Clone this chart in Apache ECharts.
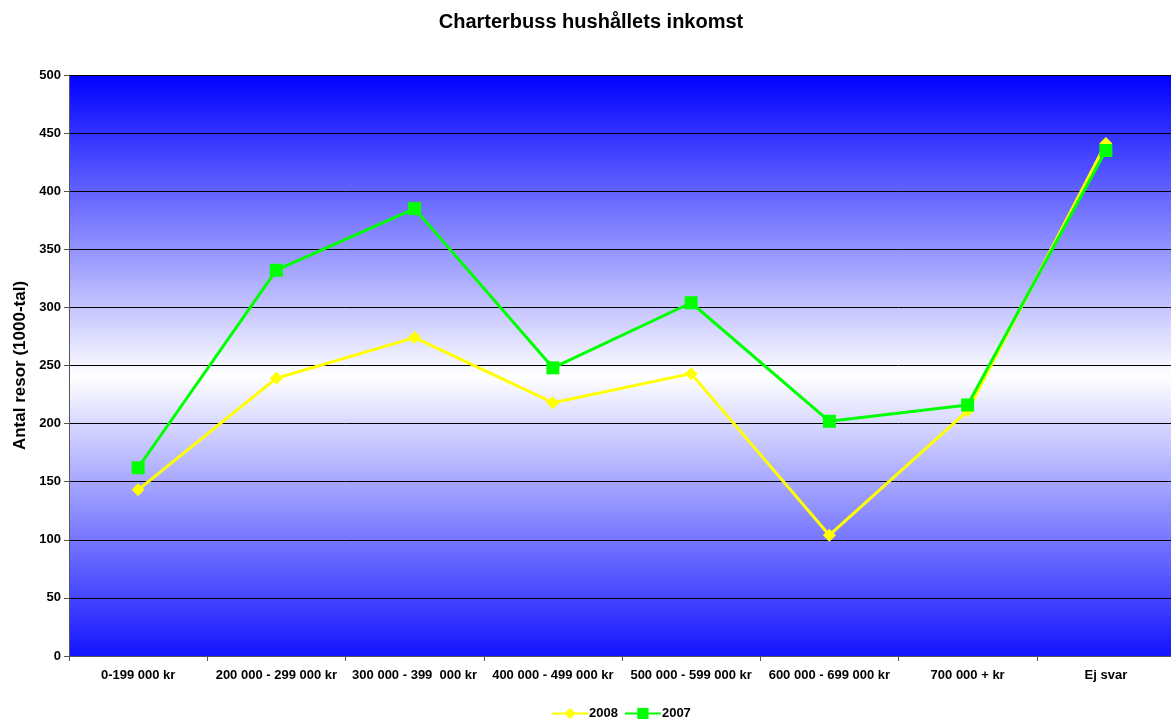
<!DOCTYPE html>
<html><head><meta charset="utf-8">
<script src="https://cdn.jsdelivr.net/npm/echarts@6/dist/echarts.min.js"></script>
<style>html,body{margin:0;padding:0;background:#fff;overflow:hidden;width:1171px;height:719px}#c{width:1175px;height:719px}</style>
</head><body><div id="c"></div>
<script>
const categories = ['0-199 000 kr','200 000 - 299 000 kr','300 000 - 399  000 kr','400 000 - 499 000 kr','500 000 - 599 000 kr','600 000 - 699 000 kr','700 000 + kr','Ej svar'];
const values2008 = [143, 239, 274, 218, 243, 104, 211, 441];
const values2007 = [162, 332, 385, 248, 304, 202, 216, 435];
const yTicks = [0, 50, 100, 150, 200, 250, 300, 350, 400, 450, 500];

const chart = echarts.init(document.getElementById('c'), null, {renderer:'canvas'});
const font = 'Liberation Sans, Arial, sans-serif';
chart.setOption({
  animation:false,
  backgroundColor:'#fff',
  title:{text:'Charterbuss hushållets inkomst', left:586, textAlign:'center', top:7,
    textStyle:{fontFamily:font, fontSize:20, fontWeight:'bold', color:'#000'}},
  legend:{bottom:-6, left:546, itemWidth:36, itemHeight:14, itemGap:6,
    textStyle:{fontFamily:font, fontSize:13, fontWeight:'bold', color:'#000', padding:[0,0,0,-4]},
    data:['2008','2007']},
  grid:{left:69, top:75, right:0, bottom:63, show:true, borderWidth:0,
    backgroundColor:new echarts.graphic.LinearGradient(0,0,0,1,[
      {offset:0,color:'#0000ff'},{offset:0.52,color:'#ffffff'},{offset:1,color:'#1414ff'}])},
  xAxis:{type:'category', data:categories, boundaryGap:true,
    axisLine:{lineStyle:{color:'#555', width:1}},
    axisTick:{show:true, length:5, lineStyle:{color:'#555'}},
    axisLabel:{interval:0, margin:13, fontFamily:font, fontSize:13, fontWeight:'bold', color:'#000'}},
  yAxis:{type:'value', min:yTicks[0], max:yTicks[yTicks.length-1], interval:50,
    name:'Antal resor (1000-tal)', nameLocation:'middle', nameGap:38, nameRotate:90,
    nameTextStyle:{fontFamily:font, fontSize:17, fontWeight:'bold', color:'#000'},
    axisLine:{show:true, lineStyle:{color:'#555'}},
    axisTick:{show:true, length:5, lineStyle:{color:'#555'}},
    splitLine:{lineStyle:{color:'#000', width:1}},
    axisLabel:{margin:8, fontFamily:font, fontSize:13, fontWeight:'bold', color:'#000'}},
  series:[
    {name:'2008', type:'line', data:values2008, symbol:'diamond', symbolSize:13,
      lineStyle:{color:'#ffff00', width:3}, itemStyle:{color:'#ffff00'}, z:2},
    {name:'2007', type:'line', data:values2007, symbol:'rect', symbolSize:13,
      lineStyle:{color:'#00ff00', width:3}, itemStyle:{color:'#00ff00'}, z:3}
  ]
});
</script></body></html>
